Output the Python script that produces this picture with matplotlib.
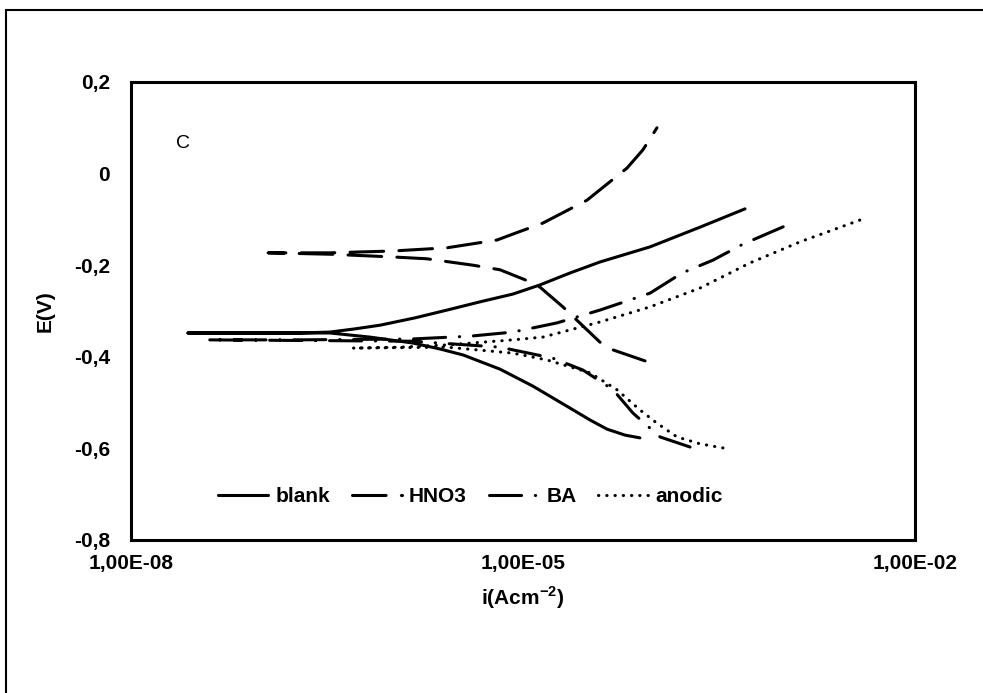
import numpy as np
import matplotlib.pyplot as plt
from matplotlib.patches import Rectangle

plt.rcParams['font.family'] = ['Liberation Sans', 'DejaVu Sans']
plt.rcParams['mathtext.fontset'] = 'custom'
plt.rcParams['mathtext.rm'] = 'Liberation Sans'
plt.rcParams['mathtext.bf'] = 'Liberation Sans:bold'

# polarization curves: current density (A cm-2) and potential (V)
# each curve: cathodic branch (from Ecorr outwards) and anodic branch (from low current upwards)
blank_i_an = [2.73e-8, 9.7e-8, 1.96e-7, 3.33e-7, 5.18e-7, 8.05e-7, 1.49e-6, 2.62e-6, 4.69e-6,
              8.38e-6, 1.35e-5, 2.29e-5, 3.88e-5, 9.38e-5, 2.26e-4, 5.0e-4]
blank_E_an = [-0.348, -0.348, -0.348, -0.346, -0.339, -0.331, -0.315, -0.298, -0.280,
              -0.263, -0.243, -0.217, -0.193, -0.160, -0.117, -0.077]
blank_i_cat = [3.33e-7, 6.75e-7, 1.44e-6, 2.32e-6, 3.48e-6, 6.67e-6, 1.19e-5, 2.42e-5, 3.26e-5,
               4.40e-5, 6.04e-5, 7.85e-5]
blank_E_cat = [-0.348, -0.357, -0.370, -0.383, -0.396, -0.427, -0.464, -0.516, -0.538,
               -0.558, -0.571, -0.577]

hno3_i_an = [1.12e-7, 3.33e-7, 1.01e-6, 2.62e-6, 6.32e-6, 8.38e-6, 1.42e-5, 3.09e-5, 6.25e-5, 8.28e-5, 1.06e-4]
hno3_E_an = [-0.173, -0.173, -0.169, -0.162, -0.145, -0.132, -0.108, -0.058, 0.012, 0.052, 0.100]
hno3_i_cat = [3.33e-7, 1.01e-6, 1.84e-6, 4.14e-6, 6.67e-6, 1.04e-5, 1.35e-5, 2.02e-5, 3.88e-5, 4.89e-5, 8.59e-5]
hno3_E_cat = [-0.176, -0.182, -0.186, -0.200, -0.210, -0.232, -0.248, -0.291, -0.368, -0.385, -0.409]

ba_i_an = [3.88e-8, 1.96e-7, 1.44e-6, 3.93e-6, 8.38e-6, 1.82e-5, 3.88e-5, 9.38e-5, 1.65e-4, 2.84e-4, 4.83e-4, 1.10e-3]
ba_E_an = [-0.363, -0.363, -0.361, -0.355, -0.346, -0.326, -0.298, -0.261, -0.217, -0.189, -0.154, -0.110]
ba_i_cat = [1.44e-6, 6.67e-6, 1.69e-5, 2.88e-5, 4.89e-5, 6.95e-5, 1.12e-4, 1.90e-4]
ba_E_cat = [-0.366, -0.379, -0.403, -0.429, -0.472, -0.523, -0.575, -0.597]

anod_i_an = [5.0e-7, 1.15e-6, 2.62e-6, 8.38e-6, 1.42e-5, 3.88e-5, 9.38e-5, 2.26e-4, 5.46e-4, 1.32e-3, 2.35e-3, 4.0e-3]
anod_E_an = [-0.381, -0.379, -0.374, -0.363, -0.357, -0.324, -0.291, -0.250, -0.195, -0.149, -0.123, -0.099]
anod_i_cat = [2.62e-6, 8.38e-6, 1.53e-5, 3.26e-5, 5.24e-5, 7.85e-5, 1.06e-4, 1.51e-4, 2.26e-4, 3.39e-4]
anod_E_cat = [-0.379, -0.392, -0.407, -0.435, -0.472, -0.516, -0.545, -0.575, -0.590, -0.599]

xticks = [1e-8, 1e-5, 1e-2]
xlabels = ['1,00E-08', '1,00E-05', '1,00E-02']
yticks = [-0.8, -0.6, -0.4, -0.2, 0.0, 0.2]
ylabels = ['-0,8', '-0,6', '-0,4', '-0,2', '0', '0,2']


def curve(i_cat, E_cat, i_an, E_an):
    return np.r_[i_cat[::-1], i_an], np.r_[E_cat[::-1], E_an]


fig = plt.figure(figsize=(9.83, 6.93), dpi=100)
ax = fig.add_axes([131/983, 1-540/693, (915-131)/983, (540-82)/693])

lw = 2.2
x, y = curve(blank_i_cat, blank_E_cat, blank_i_an, blank_E_an)
ax.plot(x, y, color='black', lw=lw, solid_capstyle='round', solid_joinstyle='round', label='blank')
x, y = curve(hno3_i_cat, hno3_E_cat, hno3_i_an, hno3_E_an)
ax.plot(x, y, color='black', lw=lw, dashes=(11, 5), dash_capstyle='round', label='HNO3')
x, y = curve(ba_i_cat, ba_E_cat, ba_i_an, ba_E_an)
ax.plot(x, y, color='black', lw=lw, dashes=(10.5, 4.5, 0.1, 4.5), dash_capstyle='round', label='BA')
x, y = curve(anod_i_cat, anod_E_cat, anod_i_an, anod_E_an)
ax.plot(x, y, color='black', lw=lw, dashes=(0.1, 2.6), dash_capstyle='round', label='anodic')

ax.set_xscale('log')
ax.set_xlim(1e-8, 1e-2)
ax.set_ylim(-0.8, 0.2)
ax.set_xticks(xticks)
ax.set_xticklabels(xlabels)
ax.xaxis.set_minor_locator(plt.NullLocator())
ax.set_yticks(yticks)
ax.set_yticklabels(ylabels)
ax.tick_params(axis='both', length=0, labelsize=15)
ax.tick_params(axis='y', pad=15)
ax.tick_params(axis='x', pad=10)
for lab in ax.get_xticklabels() + ax.get_yticklabels():
    lab.set_fontweight('bold')
for s in ax.spines.values():
    s.set_linewidth(2.2)

ax.set_xlabel(r'i(Acm$^{\mathbf{-2}}$)', fontsize=15, fontweight='bold', labelpad=8)
ax.set_ylabel('E(V)', fontsize=15, fontweight='bold', labelpad=14)
fig.text(183/983, 1-143/693, 'C', fontsize=14, ha='center', va='center')

leg = ax.legend(ncol=4, frameon=False, loc='center left',
                bbox_to_anchor=(218/983, 1-497/693), bbox_transform=fig.transFigure,
                prop={'size': 15, 'weight': 'bold'}, handlelength=2.4,
                handletextpad=0.35, columnspacing=1.05, borderpad=0, borderaxespad=0)

fig.add_artist(Rectangle((6/983, -0.1), 1.2, 1-10/693+0.1, transform=fig.transFigure,
                         fill=False, lw=1.5, edgecolor='black'))

fig.savefig('out.png', dpi=100)
